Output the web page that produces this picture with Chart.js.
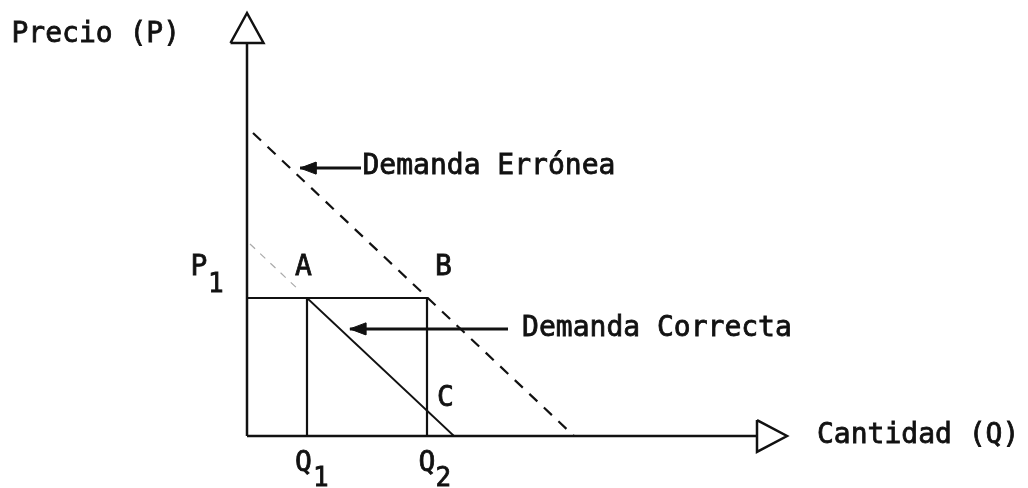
<!DOCTYPE html>
<html>
<head>
<meta charset="utf-8">
<script src="https://cdn.jsdelivr.net/npm/chart.js@4"></script>
<style>
  body { margin: 0; background: #fff; }
  canvas { display: block; }
</style>
</head>
<body>
<canvas id="grafico" width="1028" height="488"></canvas>
<script>
// valores del diagrama (unidades del gráfico)
const precioP1 = 4.6;
const cantidadQ1 = 2;
const cantidadQ2 = 6;
const demandaCorrecta = [{ x: 2, y: 4.6 }, { x: 6.9, y: 0 }];
const demandaCorrectaExt = [{ x: 0.1, y: 6.4 }, { x: 1.8, y: 4.8 }];
const demandaErronea = [{ x: 0.2, y: 10.1 }, { x: 10.9, y: 0 }];
const ejeY = [{ x: 0, y: 0 }, { x: 0, y: 13.1 }];
const ejeX = [{ x: 0, y: 0 }, { x: 17, y: 0 }];
const flechaY = [{ x: -0.55, y: 13.1 }, { x: 0, y: 14.1 }, { x: 0.55, y: 13.1 }, { x: -0.55, y: 13.1 }];
const flechaX = [{ x: 17, y: 0.53 }, { x: 18, y: 0 }, { x: 17, y: -0.53 }, { x: 17, y: 0.53 }];
const punteroErronea = [{ x: 1.77, y: 8.93 }, { x: 3.8, y: 8.93 }];
const puntaErronea = [{ x: 1.77, y: 8.93 }, { x: 2.3, y: 9.13 }, { x: 2.3, y: 8.73 }, { x: 1.77, y: 8.93 }];
const punteroCorrecta = [{ x: 3.43, y: 3.57 }, { x: 8.7, y: 3.57 }];
const puntaCorrecta = [{ x: 3.43, y: 3.57 }, { x: 3.96, y: 3.77 }, { x: 3.96, y: 3.37 }, { x: 3.43, y: 3.57 }];

const rectangulo = [{ x: 0, y: precioP1 }, { x: cantidadQ2, y: precioP1 }, { x: cantidadQ2, y: 0 }];
const verticalQ1 = [{ x: cantidadQ1, y: precioP1 }, { x: cantidadQ1, y: 0 }];

// textos
const etiquetas = [
    { texto: "Precio (P)", x: -7.85, y: 13.38 },
    { texto: "Cantidad (Q)", x: 19, y: 0 },
    { texto: "Demanda Errónea", x: 3.85, y: 8.96 },
    { texto: "Demanda Correcta", x: 9.17, y: 3.57 },
    { texto: "A", x: 1.6, y: 5.62 },
    { texto: "B", x: 6.27, y: 5.62 },
    { texto: "C", x: 6.33, y: 1.23 },
    { texto: "P", x: -1.88, y: 5.6 },
    { texto: "Q", x: 1.6, y: -0.92 },
    { texto: "Q", x: 5.72, y: -0.92 }
];
const subindices = [
    { texto: "1", x: -1.3, y: 5.02 },
    { texto: "1", x: 2.2, y: -1.45 },
    { texto: "2", x: 6.28, y: -1.45 }
];

const negro = "#111";

function linea(data, ancho, extra) {
    return Object.assign({
        data,
        showLine: true,
        borderColor: negro,
        borderWidth: ancho,
        pointRadius: 0,
        fill: false,
        clip: false,
        tension: 0
    }, extra || {});
}

function escribir(ctx, lista, sx, sy) {
    lista.forEach(e => {
        const px = sx.getPixelForValue(e.x), py = sy.getPixelForValue(e.y);
        ctx.strokeText(e.texto, px, py);
        ctx.fillText(e.texto, px, py);
    });
}

const textos = {
    id: "textos",
    afterDatasetsDraw(chart) {
        const ctx = chart.ctx;
        const sx = chart.scales.x, sy = chart.scales.y;
        ctx.save();
        ctx.fillStyle = negro;
        ctx.strokeStyle = negro;
        ctx.lineWidth = 0.8;
        ctx.textAlign = "left";
        ctx.textBaseline = "middle";
        ctx.font = "28px 'DejaVu Sans Mono'";
        escribir(ctx, etiquetas, sx, sy);
        ctx.font = "26px 'DejaVu Sans Mono'";
        escribir(ctx, subindices, sx, sy);
        ctx.restore();
    }
};

new Chart(document.getElementById("grafico").getContext("2d"), {
    type: "scatter",
    data: {
        datasets: [
            linea(ejeY, 2.5),
            linea(ejeX, 2.5),
            linea(flechaY, 2.5),
            linea(flechaX, 2.5),
            linea(rectangulo, 2.2),
            linea(verticalQ1, 2.2),
            linea(demandaCorrecta, 1.8),
            linea(demandaCorrectaExt, 1.2, { borderColor: "#aaa", borderDash: [7, 7] }),
            linea(demandaErronea, 2.2, { borderDash: [11, 9] }),
            linea(punteroErronea, 3),
            linea(puntaErronea, 1, { fill: "shape", backgroundColor: negro }),
            linea(punteroCorrecta, 3),
            linea(puntaCorrecta, 1, { fill: "shape", backgroundColor: negro })
        ]
    },
    options: {
        responsive: false,
        animation: false,
        layout: { padding: { left: 247, right: 241, top: 13, bottom: 52 } },
        plugins: { legend: { display: false }, tooltip: { enabled: false } },
        scales: {
            x: { type: "linear", min: 0, max: 18, display: false },
            y: { type: "linear", min: 0, max: 14.1, display: false }
        }
    },
    plugins: [textos]
});
</script>
</body>
</html>
